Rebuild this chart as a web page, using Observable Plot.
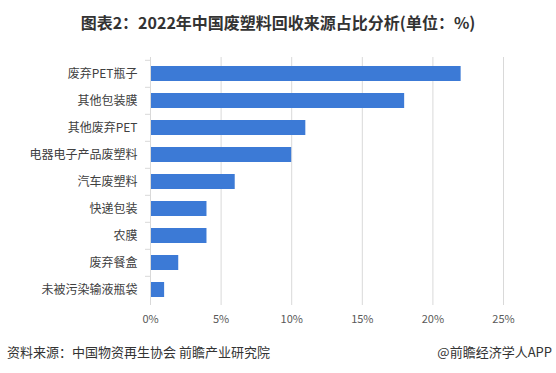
<!DOCTYPE html>
<html><head><meta charset="utf-8">
<script src="https://cdn.jsdelivr.net/npm/d3@7"></script>
<script src="https://cdn.jsdelivr.net/npm/@observablehq/plot@0.6"></script>
<style>
body{margin:0;background:#fff;font-family:"Noto Sans CJK SC",sans-serif;}
#wrap{width:556px;height:373px;position:relative;overflow:hidden;}
#title{position:absolute;top:0;left:0;width:556px;height:45px;line-height:44px;text-align:center;font-size:16px;font-weight:bold;color:#333;}
#chart{position:absolute;top:45px;left:0;}
#src{position:absolute;left:7px;top:342px;font-size:13px;color:#333;}
#brand{position:absolute;right:4px;top:342px;font-size:13px;color:#333;}
</style></head><body>
<div id="wrap">
<div id="title">图表2：2022年中国废塑料回收来源占比分析(单位：%)</div>
<div id="chart"></div>
<div id="src">资料来源：中国物资再生协会 前瞻产业研究院</div>
<div id="brand">@前瞻经济学人APP</div>
</div>
<script>
const categories = ["废弃PET瓶子","其他包装膜","其他废弃PET","电器电子产品废塑料","汽车废塑料","快递包装","农膜","废弃餐盒","未被污染输液瓶袋"];
const values = [22,18,11,10,6,4,4,2,1];
const xTicks = [0,5,10,15,20,25];
const data = categories.map((c,i)=>({cat:c, v:values[i]}));
const plot = Plot.plot({
  width:556, height:290,
  marginLeft:150, marginRight:53, marginTop:12, marginBottom:30,
  style:{fontFamily:"Noto Sans CJK SC, sans-serif", background:"transparent"},
  x:{domain:[0,25]},
  y:{domain:categories, paddingInner:0.46, paddingOuter:0.23},
  marks:[
    Plot.gridX(xTicks,{stroke:"#d9d9d9", strokeOpacity:1}),
    Plot.barX(data,{y:"cat", x:"v", fill:"#3c7ad6"}),
    Plot.ruleX([0],{stroke:"#d9d9d9"}),
    Plot.axisX({ticks:xTicks, tickSize:0, tickPadding:10, tickFormat:d=>d+"%", fontSize:11, color:"#595959", label:null}),
    Plot.axisY({tickSize:0, tickPadding:13, fontSize:12, color:"#404040", label:null}),
    Plot.axisY({tickSize:5, text:null, dy:-13.7, stroke:"#d9d9d9", label:null})
  ]
});
document.getElementById("chart").appendChild(plot);
</script>
</body></html>
